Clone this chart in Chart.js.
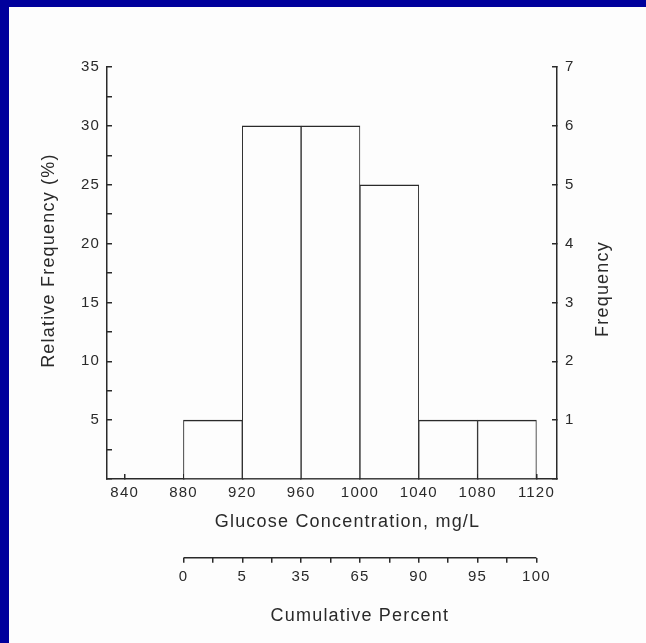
<!DOCTYPE html>
<html>
<head>
<meta charset="utf-8">
<script src="https://cdn.jsdelivr.net/npm/chart.js@4"></script>
<style>
  html, body { margin: 0; padding: 0; background: #fff; }
  #frame {
    width: 646px; height: 643px; box-sizing: border-box;
    border-top: 7px solid #00009c; border-left: 9px solid #00009c;
    background: #fdfdfd;
  }
  canvas { display: block; }
</style>
</head>
<body>
<div id="frame"><canvas id="histChart" width="637" height="636"></canvas></div>
<script>
// histogram bins (mg/L) and their heights
const binCenters = [900, 940, 980, 1020, 1060, 1100];
const relFrequency = [5, 30, 30, 25, 5, 5];
const frequency = [1, 6, 6, 5, 1, 1];

// axis ticks
const glucoseTicks = [840, 880, 920, 960, 1000, 1040, 1080, 1120];
const binEdges = [880, 920, 960, 1000, 1040, 1080, 1120];
const cumulativePercent = [0, 5, 35, 65, 90, 95, 100];
const cumulativeTicks = [880, 900, 920, 940, 960, 980, 1000, 1020, 1040, 1060, 1080, 1100, 1120];
const relTicks = [0, 2.5, 5, 7.5, 10, 12.5, 15, 17.5, 20, 22.5, 25, 27.5, 30, 32.5, 35];
const freqTicks = [0, 1, 2, 3, 4, 5, 6, 7];

const ink = "#2a2a2a";
const family = '"Liberation Sans", Arial, sans-serif';
const tickFont = { family, size: 15 };
const titleFont = { family, size: 18 };

// wider tracking like the scanned figure (context state is reset on resize)
const tracking = {
    id: "tracking",
    beforeLayout(chart) { chart.ctx.letterSpacing = "1.2px"; },
    beforeDraw(chart) { chart.ctx.letterSpacing = "1.2px"; }
};

// right axis title reads bottom-to-top, so it is drawn here
const freqTitle = {
    id: "freqTitle",
    afterDraw(chart) {
        const s = chart.scales.y1;
        const ctx = chart.ctx;
        ctx.save();
        ctx.font = "18px " + family;
        ctx.fillStyle = ink;
        ctx.textAlign = "center";
        ctx.textBaseline = "middle";
        ctx.translate(s.right - 43, (s.top + s.bottom) / 2 + 16);
        ctx.rotate(-Math.PI / 2);
        ctx.fillText("Frequency", 0, 0);
        ctx.restore();
    }
};

// cumulative axis line only spans the bins
const cumulativeLine = {
    id: "cumulativeLine",
    afterDraw(chart) {
        const s = chart.scales.x2;
        const ctx = chart.ctx;
        ctx.save();
        ctx.strokeStyle = ink;
        ctx.lineWidth = 1.5;
        ctx.beginPath();
        ctx.moveTo(s.getPixelForValue(binEdges[0]), s.top);
        ctx.lineTo(s.getPixelForValue(binEdges[binEdges.length - 1]), s.top);
        ctx.stroke();
        ctx.restore();
    }
};

const ctx = document.getElementById("histChart");

new Chart(ctx, {
    type: "bar",
    data: {
        datasets: [{
            label: "Relative Frequency",
            data: binCenters.map((x, i) => ({ x, y: relFrequency[i] })),
            backgroundColor: "#fdfdfd",
            borderColor: ink,
            borderWidth: { top: 1.5, left: 1, right: 1, bottom: 0 },
            borderSkipped: "start",
            barPercentage: 1,
            categoryPercentage: 1
        }]
    },
    options: {
        responsive: false,
        animation: false,
        layout: { padding: { top: 60, left: 0, right: 0, bottom: 0 } },
        plugins: {
            legend: { display: false },
            tooltip: {
                callbacks: {
                    label: (c) => relFrequency[c.dataIndex] + "%  (n = " + frequency[c.dataIndex] + ")"
                }
            }
        },
        scales: {
            x: {
                type: "linear", position: "bottom", weight: 0, offset: false,
                min: 828, max: 1134,
                afterBuildTicks: (s) => { s.ticks = glucoseTicks.map(v => ({ value: v })); },
                afterFit: (s) => { s.height = 78.7; },
                grid: { offset: false, drawOnChartArea: false, tickLength: -5, color: ink, lineWidth: 1.5 },
                border: { color: ink, width: 1.5 },
                ticks: { padding: 10, color: ink, font: tickFont, autoSkip: false, maxRotation: 0,
                         callback: (v) => String(v) },
                title: { display: true, text: "     Glucose Concentration, mg/L", color: ink,
                         font: titleFont, padding: { top: 0, bottom: 25 } }
            },
            x2: {
                type: "linear", position: "bottom", weight: 1, offset: false,
                min: 828, max: 1134,
                afterBuildTicks: (s) => { s.ticks = cumulativeTicks.map(v => ({ value: v })); },
                afterFit: (s) => { s.height = 85.3; },
                grid: { offset: false, drawOnChartArea: false, tickLength: 5, color: ink, lineWidth: 1.5 },
                border: { display: false },
                ticks: { padding: 5.3, color: ink, font: tickFont, autoSkip: false, maxRotation: 0,
                         callback: (v) => {
                             const i = binEdges.indexOf(v);
                             return i >= 0 ? String(cumulativePercent[i]) : "";
                         } },
                title: { display: true, text: "         Cumulative Percent", color: ink,
                         font: titleFont, padding: { top: 0, bottom: 16.3 } }
            },
            y: {
                position: "left",
                min: 0, max: 35,
                afterBuildTicks: (s) => { s.ticks = relTicks.map(v => ({ value: v })); },
                afterFit: (s) => { s.width = 98; },
                grid: { drawOnChartArea: false, tickLength: -5, color: ink, lineWidth: 1.5 },
                border: { color: ink, width: 1.5 },
                ticks: { padding: 12, color: ink, font: tickFont, autoSkip: false,
                         callback: (v) => (v > 0 && v % 5 === 0) ? String(v) : "" },
                title: { display: true, text: "    Relative Frequency (%)", color: ink,
                         font: titleFont, padding: { top: 29.5, bottom: 0 } }
            },
            y1: {
                position: "right",
                min: 0, max: 7,
                afterBuildTicks: (s) => { s.ticks = freqTicks.map(v => ({ value: v })); },
                afterFit: (s) => { s.width = 89; },
                grid: { drawOnChartArea: false, tickLength: -5, color: ink, lineWidth: 1.5 },
                border: { color: ink, width: 1.5 },
                ticks: { padding: 13, color: ink, font: tickFont, autoSkip: false,
                         callback: (v) => v > 0 ? String(v) : "" },
                title: { display: false }
            }
        }
    },
    plugins: [tracking, freqTitle, cumulativeLine]
});
</script>
</body>
</html>
